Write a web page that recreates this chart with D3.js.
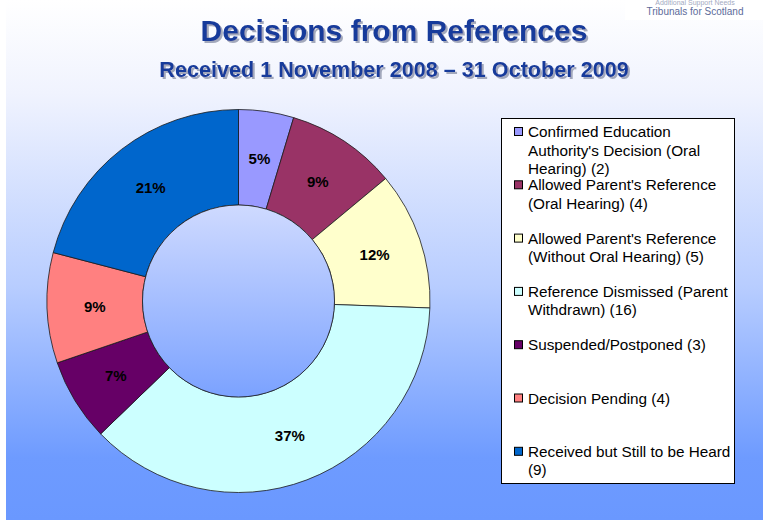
<!DOCTYPE html>
<html>
<head>
<meta charset="utf-8">
<script src="https://cdn.jsdelivr.net/npm/d3@7"></script>
<style>
body { margin:0; padding:0; background:#fff; }
svg { display:block; font-family: "Liberation Sans", Arial, sans-serif; }
.slice { stroke:#1a1a1a; stroke-width:0.8px; }
.pct { font-size:15px; font-weight:bold; fill:#000; text-anchor:middle; }
.leg { font-size:15.3px; fill:#000; }
</style>
</head>
<body>
<div id="chart"></div>
<script>
// data
var categories = [
  "Confirmed Education Authority's Decision (Oral Hearing) (2)",
  "Allowed Parent's Reference (Oral Hearing) (4)",
  "Allowed Parent's Reference (Without Oral Hearing) (5)",
  "Reference Dismissed (Parent Withdrawn) (16)",
  "Suspended/Postponed (3)",
  "Decision Pending (4)",
  "Received but Still to be Heard (9)"
];
// legend lines, wrapped like the original
var legendLines = [
  ["Confirmed Education", "Authority's Decision (Oral", "Hearing) (2)"],
  ["Allowed Parent's Reference", "(Oral Hearing) (4)"],
  ["Allowed Parent's Reference", "(Without Oral Hearing) (5)"],
  ["Reference Dismissed (Parent", "Withdrawn) (16)"],
  ["Suspended/Postponed (3)"],
  ["Decision Pending (4)"],
  ["Received but Still to be Heard", "(9)"]
];
var counts = [2, 4, 5, 16, 3, 4, 9];
var colors = ["#9999ff", "#993366", "#ffffcc", "#ccffff", "#660066", "#ff8080", "#0066cc"];

var width = 767, height = 520;

var svg = d3.select("#chart").append("svg")
  .attr("width", width)
  .attr("height", height);

var defs = svg.append("defs");
var bg = defs.append("linearGradient").attr("id","bg")
  .attr("x1",0).attr("y1",0).attr("x2",0).attr("y2",1);
bg.append("stop").attr("offset","0%").attr("stop-color","#ffffff");
bg.append("stop").attr("offset","18%").attr("stop-color","#f0f3fe");
bg.append("stop").attr("offset","55%").attr("stop-color","#b8cdff");
bg.append("stop").attr("offset","88%").attr("stop-color","#6e9bff");
bg.append("stop").attr("offset","100%").attr("stop-color","#6a98ff");

var hole = defs.append("linearGradient").attr("id","hole")
  .attr("x1",0).attr("y1",0).attr("x2",0).attr("y2",1);
hole.append("stop").attr("offset","0%").attr("stop-color","#cfdaff");
hole.append("stop").attr("offset","100%").attr("stop-color","#7ba2ff");

// soft shadow for the titles
var sh = defs.append("filter").attr("id","shadow")
  .attr("x","-5%").attr("y","-20%").attr("width","110%").attr("height","150%");
sh.append("feDropShadow").attr("dx",2).attr("dy",2).attr("stdDeviation",0.6)
  .attr("flood-color","#8e94ab").attr("flood-opacity",0.8);

svg.append("rect")
  .attr("x",6).attr("y",0)
  .attr("width",757).attr("height",height)
  .attr("fill","url(#bg)");

// logo corner
svg.append("rect").attr("x",625).attr("y",0).attr("width",142).attr("height",20).attr("fill","#fff");
svg.append("text").attr("x",695).attr("y",5).attr("text-anchor","middle")
  .style("font-size","7px").style("fill","#a3aac2").text("Additional Support Needs");
svg.append("text").attr("x",695).attr("y",15).attr("text-anchor","middle")
  .style("font-size","10px").style("fill","#5d6b9a").text("Tribunals for Scotland");

function title(txt, y, size) {
  svg.append("text").attr("x",394).attr("y",y).attr("text-anchor","middle")
    .attr("filter","url(#shadow)")
    .style("font-size",size+"px").style("font-weight","bold").style("fill","#173a9b").text(txt);
}
title("Decisions from References", 41, 30);
title("Received 1 November 2008 \u2013 31 October 2009", 77, 21.6);

// donut
var cx = 238.5, cy = 301, rOut = 191.5, rIn = 96;
var pie = d3.pie().sort(null).value(function(d){ return d; });
var arc = d3.arc().innerRadius(rIn).outerRadius(rOut);
var total = d3.sum(counts);

var g = svg.append("g").attr("transform","translate(" + cx + "," + cy + ")");
var arcs = pie(counts);

g.selectAll(".slice").data(arcs).enter().append("path")
  .attr("class","slice")
  .attr("d", arc)
  .attr("fill", function(d,i){ return colors[i]; });

g.append("circle").attr("r", rIn)
  .attr("fill","url(#hole)")
  .attr("stroke","#1a1a1a").attr("stroke-width",0.8);

g.selectAll(".pct").data(arcs).enter().append("text")
  .attr("class","pct")
  .attr("transform", function(d){ return "translate(" + arc.centroid(d) + ")"; })
  .attr("dy","0.36em")
  .text(function(d){ return Math.round(d.value / total * 100) + "%"; });

// legend
var lg = svg.append("g");
lg.append("rect").attr("x",501.5).attr("y",118.5).attr("width",233).attr("height",365)
  .attr("fill","#fff").attr("stroke","#000").attr("stroke-width",1);

var item = lg.selectAll(".item").data(legendLines).enter().append("g")
  .attr("class","item")
  .attr("transform", function(d,i){ return "translate(0," + (137 + i*53.3) + ")"; });

item.append("rect")
  .attr("x",514.5).attr("y",-9.5).attr("width",8).attr("height",8)
  .attr("fill", function(d,i){ return colors[i]; })
  .attr("stroke","#000").attr("stroke-width",1);

item.each(function(lines){
  var t = d3.select(this).append("text").attr("class","leg");
  lines.forEach(function(l, j){
    t.append("tspan").attr("x",528).attr("y", j*18.5).text(l);
  });
});
</script>
</body>
</html>
